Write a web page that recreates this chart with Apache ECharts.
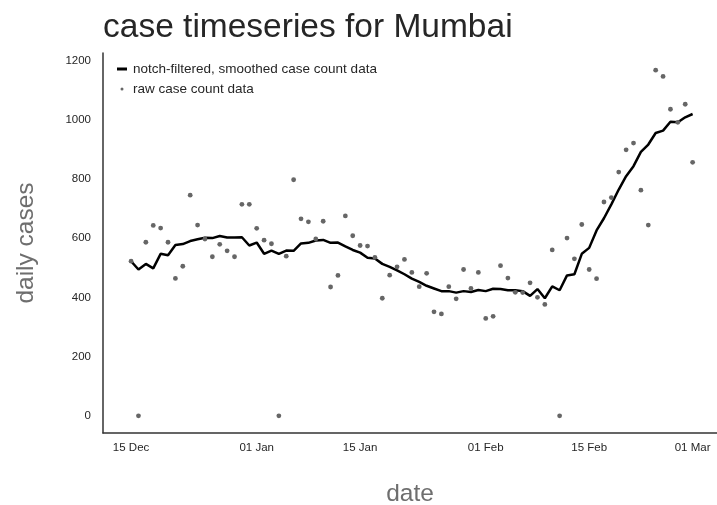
<!DOCTYPE html>
<html>
<head>
<meta charset="utf-8">
<script src="https://cdn.jsdelivr.net/npm/echarts@6/dist/echarts.min.js"></script>
<style>
html,body{margin:0;padding:0;background:#fff;}
#chart{width:717px;height:505px;}
</style>
</head>
<body>
<div id="chart"></div>
<script>
// Days since 15 Dec (2020) -> 01 Mar (2021), one value per day
const smoothed = [522,494,513,498,547,542,577,580,590,596,601,600,607,602,602,603,575,585,547,558,
  547,558,557,582,584,592,594,584,585,572,560,551,534,531,513,503,491,478,463,452,
  439,430,421,421,416,421,418,425,421,429,428,424,424,421,405,428,397,437,424,474,
  478,547,567,626,667,714,764,809,843,891,916,955,963,993,991,1008,1019];
const raw = [522,0,586,643,634,586,464,505,745,644,597,537,579,557,537,714,714,633,593,581,
  0,539,797,665,655,597,657,435,474,675,608,575,573,535,397,475,503,528,484,436,
  481,351,344,436,395,494,430,484,329,336,507,465,417,416,449,400,376,560,0,600,
  530,646,494,463,722,737,823,898,921,762,644,1167,1146,1035,991,1052,856];
const xTickDays = [0,17,31,48,62,76];
const xTickLabels = ['15 Dec','01 Jan','15 Jan','01 Feb','15 Feb','01 Mar'];
const yTicks = [0,200,400,600,800,1000,1200];

const FONT = '"Liberation Sans", Arial, Helvetica, sans-serif';
const chart = echarts.init(document.getElementById('chart'), null, {renderer:'canvas'});
const lineData = smoothed.map((v,i)=>[i,v]);
const rawData = raw.map((v,i)=>[i,v]);
const labelMap = {};
xTickDays.forEach((d,i)=>labelMap[d]=xTickLabels[i]);

chart.setOption({
  animation:false,
  backgroundColor:'#fff',
  title:{
    text:'case timeseries for Mumbai',
    left:98, top:6,
    textStyle:{fontFamily:FONT, fontSize:33.5, fontWeight:'normal', color:'#262626'}
  },
  legend:{
    orient:'vertical', left:112, top:57,
    itemWidth:10, itemHeight:3, itemGap:6,
    textStyle:{fontFamily:FONT, fontSize:13.5, color:'#262626', padding:[0,0,0,1]},
    data:[
      {name:'notch-filtered, smoothed case count data', icon:'rect', itemStyle:{color:'#000'}},
      {name:'raw case count data', icon:'circle', itemStyle:{color:'#666'}}
    ]
  },
  grid:{left:103, right:0, top:53, bottom:72, containLabel:false, outerBoundsMode:'none'},
  xAxis:{
    type:'value', min:-3.8, max:79.3,
    name:'date', nameLocation:'middle', nameGap:49,
    nameTextStyle:{fontFamily:FONT, fontSize:24.5, color:'#6e6e6e'},
    axisLine:{show:true, onZero:false, lineStyle:{color:'#333', width:1.5}},
    axisTick:{show:false},
    splitLine:{show:false},
    axisLabel:{customValues:xTickDays, formatter:v=>labelMap[v]||'', fontFamily:FONT, fontSize:11.5, color:'#262626', margin:9}
  },
  yAxis:{
    type:'value', min:-58, max:1225,
    name:'daily cases', nameLocation:'middle', nameGap:64, nameRotate:90,
    nameTextStyle:{fontFamily:FONT, fontSize:24.5, color:'#6e6e6e'},
    axisLine:{show:true, onZero:false, lineStyle:{color:'#333', width:1.5}},
    axisTick:{show:false},
    splitLine:{show:false},
    axisLabel:{customValues:yTicks, formatter:v=>String(v), fontFamily:FONT, fontSize:11.5, color:'#262626', margin:12}
  },
  series:[
    {
      name:'notch-filtered, smoothed case count data', type:'line', data:lineData,
      showSymbol:false, symbol:'none', lineStyle:{color:'#000', width:2.5}, itemStyle:{color:'#000'}, z:2
    },
    {
      name:'raw case count data', type:'scatter', data:rawData,
      symbolSize:4.8, itemStyle:{color:'#666', opacity:1}, z:3
    }
  ]
});
</script>
</body>
</html>
